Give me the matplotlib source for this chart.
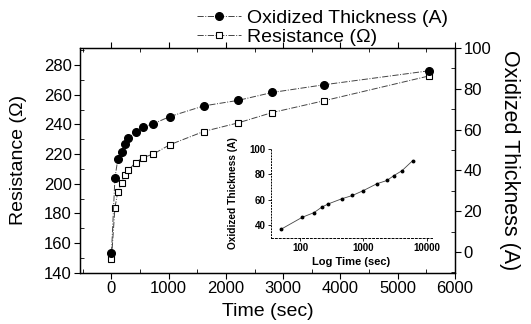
import matplotlib
matplotlib.use("Agg")
import matplotlib.pyplot as plt
from matplotlib.ticker import MultipleLocator, LogLocator, NullFormatter
import numpy as np

plt.rcParams['font.family'] = ['Liberation Sans', 'DejaVu Sans']

# Data
time_s = [0, 60, 110, 175, 235, 290, 420, 545, 730, 1020, 1610, 2210, 2810, 3720, 5540]
thickness_A = [-0.5, 36.2, 45.4, 49.0, 52.7, 55.7, 58.9, 61.2, 62.8, 66.4, 71.6, 74.3, 78.2, 82.0, 88.8]
resistance_ohm = [149.3, 183.9, 194.4, 200.5, 205.6, 209.0, 214.2, 217.5, 220.0, 226.3, 235.2, 241.0, 248.0, 256.0, 272.6]

inset_time = [51, 109, 166, 220, 280, 455, 670, 1000, 1620, 2340, 2980, 4040, 5950]
inset_thick = [36.8, 46.1, 49.7, 54.0, 56.6, 60.6, 63.2, 67.1, 72.4, 75.0, 78.7, 82.7, 90.6]

x_ticks = [0, 1000, 2000, 3000, 4000, 5000, 6000]
left_ticks = [140, 160, 180, 200, 220, 240, 260, 280]
right_ticks = [0, 20, 40, 60, 80, 100]

W, H = 531, 324
fig = plt.figure(figsize=(W / 100, H / 100), dpi=100)
ax = fig.add_axes([80 / W, 1 - 272.7 / H, (455 - 80) / W, (272.7 - 48) / H])
ax2 = ax.twinx()

lc = '#444444'
l1, = ax2.plot(time_s, thickness_A, linestyle='-.', color=lc, linewidth=0.7,
               marker='o', markersize=5.5, markerfacecolor='black', markeredgecolor='black',
               label='Oxidized Thickness (A)')
l2, = ax.plot(time_s, resistance_ohm, linestyle='-.', color=lc, linewidth=0.7,
              marker='s', markersize=4.5, markerfacecolor='white', markeredgecolor='black',
              markeredgewidth=0.8, label='Resistance (\u03a9)')

ax.set_xlim(-550, 6000)
ax.set_ylim(140, 291.5)
ax2.set_ylim(-10.2, 99.5)

ax.set_xticks(x_ticks)
ax.set_yticks(left_ticks)
ax2.set_yticks(right_ticks)
ax.xaxis.set_minor_locator(MultipleLocator(500))
ax.yaxis.set_minor_locator(MultipleLocator(10))
ax2.yaxis.set_minor_locator(MultipleLocator(10))

for a in (ax, ax2):
    for s in a.spines.values():
        s.set_linewidth(0.9)
ax.tick_params(axis='both', which='major', direction='out', length=4, width=0.8, labelsize=12, pad=2)
ax.tick_params(axis='both', which='minor', direction='in', length=3, width=0.6)
ax.tick_params(axis='x', which='both', top=True)
ax2.tick_params(axis='y', which='major', direction='out', length=4, width=0.8, labelsize=12, pad=2)
ax2.tick_params(axis='y', which='minor', direction='in', length=3, width=0.6)

ax.set_xlabel('Time (sec)', fontsize=14, labelpad=5)
ax.set_ylabel('Resistance (\u03a9)', fontsize=14, labelpad=12)
ax2.set_ylabel('Oxidized Thickness (A)', fontsize=15.5, rotation=-90, labelpad=21)

leg = fig.legend(handles=[l1, l2], loc='upper left', bbox_to_anchor=(185 / W, 1 + 2 / H),
                 frameon=False, fontsize=14, handlelength=2.3, handletextpad=0.3,
                 labelspacing=0.05, borderpad=0.1)

# Inset
axi = fig.add_axes([271 / W, 1 - 237.7 / H, (432 - 271) / W, (237.7 - 148.7) / H])
axi.plot(inset_time, inset_thick, linestyle='-', color=lc, linewidth=0.6,
         marker='o', markersize=1.8, markerfacecolor='black', markeredgecolor='black')
axi.set_xscale('log')
axi.set_xlim(35, 12000)
axi.set_ylim(30, 100)
axi.set_xticks([100, 1000, 10000])
axi.set_xticklabels(['100', '1000', '10000'])
axi.xaxis.set_minor_locator(LogLocator(subs=np.arange(2, 10)))
axi.xaxis.set_minor_formatter(NullFormatter())
axi.set_yticks([40, 60, 80, 100])
axi.patch.set_alpha(0)
axi.spines['top'].set_visible(False)
axi.spines['right'].set_visible(False)
axi.spines['left'].set_linestyle((0, (1, 2)))
axi.spines['bottom'].set_linestyle((0, (2, 2)))
axi.spines['left'].set_linewidth(0.7)
axi.spines['bottom'].set_linewidth(0.7)
axi.tick_params(axis='both', which='major', length=2, width=0.6, labelsize=7, pad=2)
axi.tick_params(axis='both', which='minor', length=0)
for t in axi.get_xticklabels() + axi.get_yticklabels():
    t.set_fontweight('bold')
axi.set_xlabel('Log Time (sec)', fontsize=8, fontweight='bold', labelpad=3)
axi.set_ylabel('Oxidized Thickness (A)', fontsize=7.3, fontweight='bold', labelpad=8)

fig.savefig('out.png', dpi=100)
